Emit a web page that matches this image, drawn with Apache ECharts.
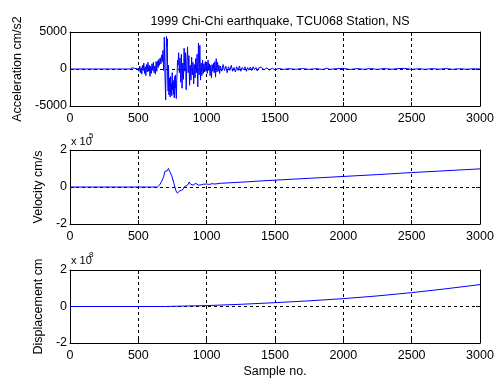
<!DOCTYPE html>
<html>
<head>
<meta charset="utf-8">
<script src="https://cdn.jsdelivr.net/npm/echarts@6/dist/echarts.min.js"></script>
<style>
  html, body { margin: 0; padding: 0; background: #fff; }
  #chart { width: 494px; height: 379px; }
</style>
</head>
<body>
<div id="chart"></div>
<script>
// samples are [sample no., value]
const accel = [
  [0, 0], [440, 0], [455, 150], [460, -100], [465, 0], [500, 0],
  [505, -300], [510, 400], [515, -500], [520, 200], [525, -700], [530, 500], [535, -200], [540, 800],
  [545, -600], [550, 300], [555, -900], [560, 600], [565, -400], [570, 900], [575, -300], [580, 500],
  [585, -1000], [590, 400], [595, -600], [600, 700], [605, -200], [610, 900], [615, -500], [620, 400],
  [625, -700], [630, 1000], [635, -300], [640, 1100], [645, 200], [650, 1300], [655, 500], [660, 1500],
  [665, 700], [670, 1900], [675, 1000], [680, 2500], [685, -200], [690, 4300], [695, -800], [700, -4200],
  [703, 1000], [706, 4400], [709, 3000], [712, 4100], [715, -1500], [718, -3000], [721, 500], [724, -3500],
  [727, -1200], [730, -2500], [733, -3800], [736, -1000], [739, -3200], [742, -2000], [745, -3600],
  [748, -500], [751, -2800], [754, -1500], [757, -3400], [760, -1800], [763, -3900], [766, -1000],
  [769, -2600], [772, -800], [775, -3000], [778, -4000], [781, -1500], [784, -500], [787, 1200],
  [790, 500], [795, 2200], [800, -500], [805, 1500], [810, -1800], [815, 2000], [820, -2600], [825, 800],
  [830, -1400], [835, 2800], [840, -300], [845, 2200], [850, -2800], [855, 1000], [860, 3000], [865, -500],
  [870, 1800], [875, -2200], [880, 500], [885, -1500], [890, 1600], [895, -800], [900, 900], [905, -2000],
  [910, 600], [915, -1200], [920, 1400], [925, -500], [930, 2000], [935, -2400], [940, 3500], [945, -800],
  [950, 3200], [955, -1500], [960, 800], [965, -900], [970, 1200], [975, -600], [980, 700], [985, -400],
  [990, 1000], [995, -300], [1000, 900], [1005, -600], [1010, 1200], [1015, -200], [1020, 700],
  [1025, -900], [1030, 500], [1035, -1200], [1040, 600], [1045, -300], [1050, 800], [1055, -500],
  [1060, 1000], [1065, -1100], [1070, 1400], [1075, -400], [1080, 900], [1085, -300], [1090, 500],
  [1095, -600], [1100, 400], [1110, -300], [1120, 600], [1130, -200], [1140, 400], [1150, -500],
  [1160, 300], [1170, -200], [1180, 500], [1190, -300], [1200, 200], [1210, -400], [1220, 300],
  [1230, -200], [1240, 400], [1250, -300], [1260, 200], [1270, -100], [1280, 300], [1290, -300],
  [1300, 200], [1310, -150], [1320, 250], [1330, -200], [1340, 300], [1350, -100], [1360, 200],
  [1370, -250], [1380, 150], [1390, -100], [1400, 250], [1420, -100], [1440, 150], [1460, -120],
  [1480, 100], [1500, -100], [1530, 80], [1560, -60], [1600, 50], [1650, -40], [1700, 60], [1750, -50],
  [1800, 40], [1850, -60], [1880, 120], [1900, -50], [1950, 40], [2000, 80], [2050, -60], [2100, 50],
  [2150, -40], [2200, 60], [2250, -50], [2300, 70], [2350, -40], [2400, 50], [2450, 80], [2500, -50],
  [2550, 40], [2600, -40], [2650, 50], [2700, -30], [2750, 60], [2800, -40], [2850, 40], [2900, -30],
  [2950, 30], [3000, 0]
];

// velocity in units of 1e5 cm/s
const velocity = [
  [0, 0], [595, 0], [600, -0.03], [615, 0], [625, -0.04], [640, 0], [655, 0.1], [670, 0.3],
  [685, 0.55], [695, 0.85], [700, 0.75], [705, 0.95], [712, 0.88], [720, 1.0], [727, 0.92],
  [733, 1.0], [745, 0.6], [760, 0.2], [775, -0.2], [785, -0.33], [795, -0.25], [805, -0.2],
  [815, -0.1], [825, -0.15], [835, 0], [845, -0.05], [860, 0.1], [872, 0.27], [882, 0.15],
  [890, 0.05], [900, 0.1], [910, 0.05], [920, 0.2], [930, 0.22], [940, 0.1], [950, 0.18],
  [960, 0.12], [975, 0.15], [1000, 0.16], [1020, 0.14], [1040, 0.18], [1060, 0.16], [1100, 0.2],
  [1200, 0.24], [1300, 0.28], [1400, 0.33], [1500, 0.37], [1750, 0.47], [2000, 0.57],
  [2250, 0.67], [2500, 0.78], [2750, 0.88], [3000, 0.98]
];

// displacement in units of 1e8 cm
const displacement = [
  [0, 0], [700, 0], [710, 0.01], [800, 0.02], [1000, 0.05], [1250, 0.12], [1500, 0.21],
  [1750, 0.31], [2000, 0.43], [2250, 0.58], [2500, 0.76], [2750, 0.97], [3000, 1.2]
];

const yNames = ['Acceleration cm/s2', 'Velocity cm/s', 'Displacement cm'];
const yRanges = [[-5000, 5000, 5000], [-2, 2, 2], [-2, 2, 2]];
const gridTops = [32, 150, 270];
const gridHeights = [74, 74, 73];
const nameGaps = [43, 22, 22];

const FONT = 'Liberation Sans, Arial, sans-serif';
const FS = 12.5;
const dash = { color: '#000', type: [3, 3], width: 1 };
const plain = v => String(v);

const chart = echarts.init(document.getElementById('chart'), null, { renderer: 'canvas' });

const grids = [], xAxes = [], yAxes = [];
gridTops.forEach((top, i) => {
  grids.push({
    left: 70, right: 14, top: top, height: gridHeights[i], show: false,
    containLabel: false, outerBoundsMode: 'none'
  });
  // bottom x
  xAxes.push({
    gridIndex: i, type: 'value', min: 0, max: 3000, interval: 500, position: 'bottom',
    name: i === 2 ? 'Sample no.' : '', nameLocation: 'middle', nameGap: 22,
    nameTextStyle: { color: '#000', fontFamily: FONT, fontSize: FS },
    axisLine: { show: true, onZero: false, lineStyle: { color: '#000' } },
    axisTick: { show: true, inside: true, length: 4, lineStyle: { color: '#000' } },
    axisLabel: { color: '#000', fontFamily: FONT, fontSize: FS, margin: 6, formatter: plain, hideOverlap: false },
    splitLine: { show: true, lineStyle: dash }
  });
  // top x (box + ticks)
  xAxes.push({
    gridIndex: i, type: 'value', min: 0, max: 3000, interval: 500, position: 'top',
    axisLine: { show: true, onZero: false, lineStyle: { color: '#000' } },
    axisTick: { show: true, inside: true, length: 4, lineStyle: { color: '#000' } },
    axisLabel: { show: false }, splitLine: { show: false }
  });
  const r = yRanges[i];
  yAxes.push({
    gridIndex: i, type: 'value', min: r[0], max: r[1], interval: r[2], position: 'left',
    name: yNames[i], nameLocation: 'middle', nameGap: nameGaps[i], nameRotate: 90,
    nameTextStyle: { color: '#000', fontFamily: FONT, fontSize: FS },
    axisLine: { show: true, onZero: false, lineStyle: { color: '#000' } },
    axisTick: { show: true, inside: true, length: 4, lineStyle: { color: '#000' } },
    axisLabel: { color: '#000', fontFamily: FONT, fontSize: FS, margin: 3, formatter: plain },
    splitLine: { show: true, lineStyle: dash }
  });
  yAxes.push({
    gridIndex: i, type: 'value', min: r[0], max: r[1], interval: r[2], position: 'right',
    axisLine: { show: true, onZero: false, lineStyle: { color: '#000' } },
    axisTick: { show: true, inside: true, length: 4, lineStyle: { color: '#000' } },
    axisLabel: { show: false }, splitLine: { show: false }
  });
});

const seriesData = [accel, velocity, displacement];
const series = seriesData.map((d, i) => ({
  type: 'line', xAxisIndex: i * 2, yAxisIndex: i * 2, data: d,
  showSymbol: false, symbol: 'none', animation: false,
  lineStyle: { color: '#0000ff', width: 1 }
}));

chart.setOption({
  backgroundColor: '#fff',
  animation: false,
  title: {
    text: '1999 Chi-Chi earthquake, TCU068 Station, NS', left: 275, top: 10, textAlign: 'center',
    textStyle: { color: '#000', fontFamily: FONT, fontSize: FS, fontWeight: 'normal' }
  },
  grid: grids, xAxis: xAxes, yAxis: yAxes, series: series,
  graphic: [
    { type: 'text', left: 71, top: 136, style: { text: 'x 10', fontFamily: FONT, fontSize: 11, fill: '#000' } },
    { type: 'text', left: 89, top: 132, style: { text: '5', fontFamily: FONT, fontSize: 8, fill: '#000' } },
    { type: 'text', left: 71, top: 255, style: { text: 'x 10', fontFamily: FONT, fontSize: 11, fill: '#000' } },
    { type: 'text', left: 89, top: 251, style: { text: '8', fontFamily: FONT, fontSize: 8, fill: '#000' } }
  ]
});
</script>
</body>
</html>
